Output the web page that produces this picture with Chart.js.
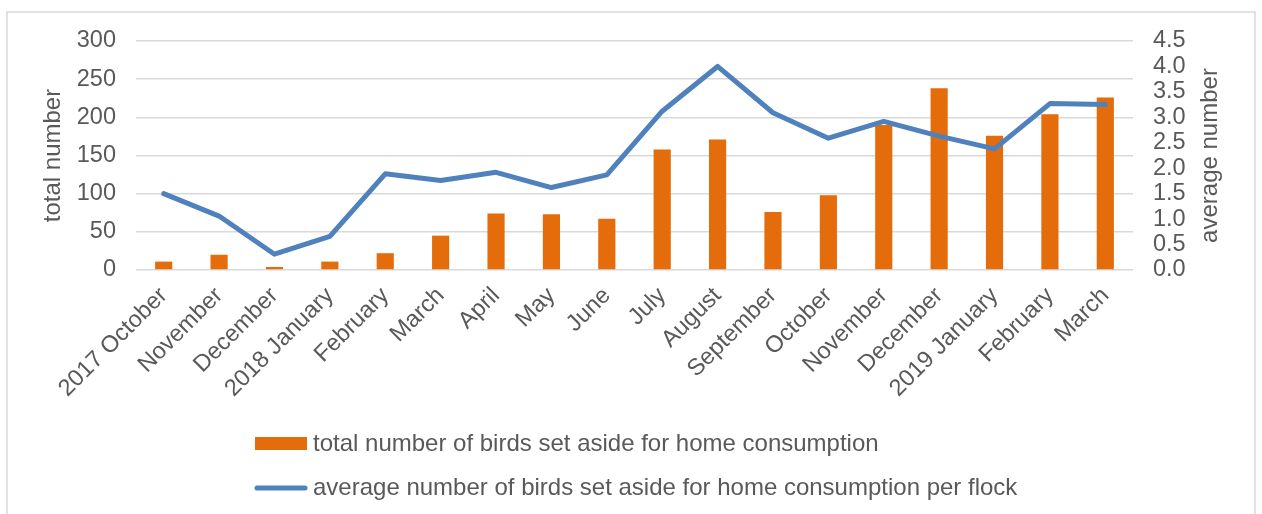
<!DOCTYPE html>
<html>
<head>
<meta charset="utf-8">
<script src="https://cdn.jsdelivr.net/npm/chart.js@4/dist/chart.umd.min.js"></script>
<style>
  html, body { margin: 0; padding: 0; background: #fff; overflow: hidden; }
  #wrap { position: relative; width: 1262px; height: 514px; }
</style>
</head>
<body>
<div id="wrap"><canvas id="birdsChart" width="1262" height="514"></canvas></div>
<script>
// chart data
const months = ['2017 October', 'November', 'December', '2018 January', 'February', 'March',
  'April', 'May', 'June', 'July', 'August', 'September', 'October', 'November', 'December',
  '2019 January', 'February', 'March'];
const totalBirds = [11, 20, 4, 11, 22, 45, 74, 73, 67, 158, 171, 76, 98, 190, 238, 176, 204, 226];
const avgPerFlock = [1.50, 1.06, 0.31, 0.66, 1.89, 1.76, 1.92, 1.62, 1.87, 3.12, 4.00, 3.09, 2.59, 2.92, 2.63, 2.38, 3.27, 3.25];
const seriesNames = ['total number of birds set aside for home consumption',
  'average number of birds set aside for home consumption per flock'];
const axisTitles = ['total number', 'average number'];

const FONT = "'Liberation Sans', Arial, sans-serif";
const TEXT = '#595959';
const ORANGE = '#E46C0A';
const BLUE = '#4F81BD';
const TICK_SIZE = 23.5;

// draws frame, axis titles (both read bottom to top) and the legend
const extras = {
  id: 'extras',
  afterDraw(chart) {
    const ctx = chart.ctx;
    const area = chart.chartArea;
    const midY = (area.top + area.bottom) / 2;
    ctx.save();

    ctx.strokeStyle = '#d9d9d9';
    ctx.lineWidth = 1.5;
    ctx.strokeRect(7, 12, 1248, 600);

    ctx.fillStyle = TEXT;
    ctx.font = '24px ' + FONT;
    ctx.textAlign = 'center';
    ctx.textBaseline = 'middle';
    [[axisTitles[0], 53], [axisTitles[1], 1210]].forEach(([txt, x]) => {
      ctx.save();
      ctx.translate(x, midY);
      ctx.rotate(-Math.PI / 2);
      ctx.fillText(txt, 0, 0);
      ctx.restore();
    });

    // legend rows
    ctx.font = '24px ' + FONT;
    ctx.textAlign = 'left';
    const lx = 255, sw = 52;
    chart.data.datasets.forEach((ds, i) => {
      const y = i === 0 ? 444 : 488;
      if (ds.type === 'line') {
        ctx.strokeStyle = ds.borderColor;
        ctx.lineWidth = 5;
        ctx.lineCap = 'round';
        ctx.beginPath();
        ctx.moveTo(lx + 2, y);
        ctx.lineTo(lx + sw - 2, y);
        ctx.stroke();
      } else {
        ctx.fillStyle = ds.backgroundColor;
        ctx.fillRect(lx, y - 7, sw, 13);
      }
      ctx.fillStyle = TEXT;
      ctx.fillText(ds.label, lx + sw + 6, y);
    });
    ctx.restore();
  }
};

const ctx = document.getElementById('birdsChart').getContext('2d');
new Chart(ctx, {
  data: {
    labels: months,
    datasets: [
      {
        type: 'bar',
        label: seriesNames[0],
        data: totalBirds,
        backgroundColor: ORANGE,
        borderWidth: 0,
        barPercentage: 0.31,
        categoryPercentage: 1,
        yAxisID: 'y',
        order: 1
      },
      {
        type: 'line',
        label: seriesNames[1],
        data: avgPerFlock,
        borderColor: BLUE,
        borderWidth: 5,
        borderCapStyle: 'round',
        borderJoinStyle: 'round',
        pointRadius: 0,
        tension: 0,
        yAxisID: 'y1',
        order: 0
      }
    ]
  },
  options: {
    responsive: false,
    animation: false,
    layout: { padding: { top: 41, left: 0, right: 0, bottom: 114 } },
    plugins: {
      legend: { display: false },
      tooltip: { enabled: false }
    },
    scales: {
      x: {
        grid: { display: false },
        border: { display: false },
        ticks: {
          color: TEXT,
          font: { family: FONT, size: TICK_SIZE },
          autoSkip: false,
          minRotation: 45,
          maxRotation: 45,
          padding: 4
        },
        afterFit: (s) => { s.height = 130; }
      },
      y: {
        position: 'left',
        min: 0,
        max: 300,
        grid: { color: '#d9d9d9', lineWidth: 1.5, drawTicks: false },
        border: { display: false },
        ticks: {
          stepSize: 50,
          color: TEXT,
          font: { family: FONT, size: TICK_SIZE },
          padding: 20
        },
        afterFit: (s) => { s.width = 136; }
      },
      y1: {
        position: 'right',
        min: 0,
        max: 4.5,
        grid: { display: false, drawTicks: false },
        border: { display: false },
        ticks: {
          stepSize: 0.5,
          autoSkip: false,
          color: TEXT,
          font: { family: FONT, size: TICK_SIZE },
          padding: 20,
          callback: (v) => v.toFixed(1)
        },
        afterFit: (s) => { s.width = 129; }
      }
    }
  },
  plugins: [extras]
});
</script>
</body>
</html>
